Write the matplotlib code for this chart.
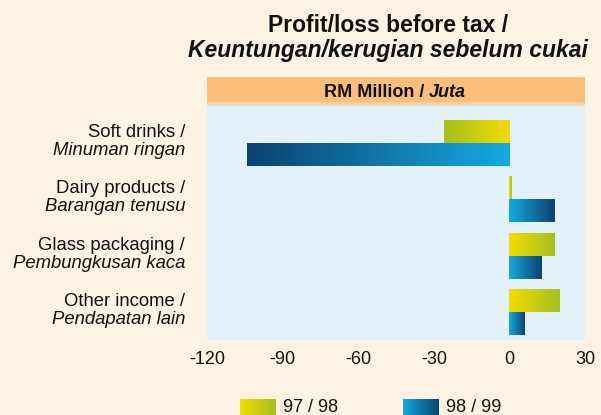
import numpy as np
import matplotlib
matplotlib.use("Agg")
import matplotlib.pyplot as plt
from matplotlib.colors import LinearSegmentedColormap
from matplotlib.patches import Rectangle

plt.rcParams["font.family"] = ["Liberation Sans", "DejaVu Sans"]

# Data (RM million)
segments_en = ["Soft drinks /", "Dairy products /", "Glass packaging /", "Other income /"]
segments_ms = ["Minuman ringan", "Barangan tenusu", "Pembungkusan kaca", "Pendapatan lain"]
fy9798 = [-26, 1, 18, 20]
fy9899 = [-104, 18, 13, 6]
series_labels = ["97 / 98", "98 / 99"]
xticks = [-120, -90, -60, -30, 0, 30]

BG = "#fdf3e2"
PLOT_BG = "#e3f1fa"
HEADER = "#fbbf7c"
TXT = "#111111"

# gradients: colour at zero -> colour at bar end
cmap_9798 = LinearSegmentedColormap.from_list("c9798", ["#f4dc00", "#a4c01e"])
cmap_9899 = LinearSegmentedColormap.from_list("c9899", ["#14aae0", "#0b4270"])
cmap_shade = LinearSegmentedColormap.from_list("shade", [HEADER, "#f3d7b6", PLOT_BG])

W, H = 601, 415
fig = plt.figure(figsize=(W / 100, H / 100), dpi=100, facecolor=BG)

ax = fig.add_axes([207 / W, (H - 340) / H, 378 / W, 234 / H])
ax.set_facecolor(PLOT_BG)

grad = np.linspace(0, 1, 256).reshape(1, -1)
ypos = np.arange(len(segments_en))
bh = 0.41


def gradient_bars(values, offset, cmap):
    bars = ax.barh(ypos + offset, values, height=bh, color="none", edgecolor="none")
    for patch in bars:
        x0 = 0
        x1 = patch.get_x() + patch.get_width() if patch.get_x() == 0 else patch.get_x()
        y0 = patch.get_y()
        y1 = y0 + patch.get_height()
        im = ax.imshow(grad, cmap=cmap, aspect="auto", extent=(x0, x1, y1, y0),
                       interpolation="bicubic", zorder=2)
        im.set_clip_path(patch)


gradient_bars(fy9798, -bh / 2, cmap_9798)
gradient_bars(fy9899, bh / 2, cmap_9899)

ax.set_xlim(-120, 30)
ax.set_ylim(3.5, -0.66)
ax.set_xticks(xticks)
ax.set_xticklabels([str(t) for t in xticks])
ax.set_yticks([])
ax.tick_params(axis="x", length=0, pad=8, labelsize=13, labelcolor=TXT)
for s in ax.spines.values():
    s.set_visible(False)

# category labels (two lines: English / Malay italic)
for i, (en, ms) in enumerate(zip(segments_en, segments_ms)):
    ax.annotate(en, xy=(0, i), xycoords=ax.get_yaxis_transform(),
                xytext=(-22, 6), textcoords="offset pixels",
                ha="right", va="baseline", fontsize=13.3, color=TXT, annotation_clip=False)
    ax.annotate(ms, xy=(0, i), xycoords=ax.get_yaxis_transform(),
                xytext=(-22, -12), textcoords="offset pixels",
                ha="right", va="baseline", fontsize=13.3, style="italic", color=TXT,
                annotation_clip=False)

# overlay in pixel coordinates for title, header band and legend
ov = fig.add_axes([0, 0, 1, 1], facecolor="none")
ov.set_xlim(0, W)
ov.set_ylim(H, 0)
ov.axis("off")

ov.text(388, 32, "Profit/loss before tax /", ha="center", va="baseline",
        fontsize=16.5, fontweight="bold", color=TXT)
ov.text(388, 57, "Keuntungan/kerugian sebelum cukai", ha="center", va="baseline",
        fontsize=16.5, fontweight="bold", style="italic", color=TXT)

ov.add_patch(Rectangle((207, 77), 378, 24, facecolor=HEADER, edgecolor="none"))
ov.imshow(grad.T, cmap=cmap_shade, aspect="auto", extent=(207, 585, 107, 101),
          interpolation="bicubic")
ov.text(424, 97, "RM Million /", ha="right", va="baseline",
        fontsize=13, fontweight="bold", color=TXT)
ov.text(429, 97, "Juta", ha="left", va="baseline",
        fontsize=13, fontweight="bold", style="italic", color=TXT)

# legend
for (sx, cmap, lab) in [(240, cmap_9798, series_labels[0]), (403, cmap_9899, series_labels[1])]:
    ov.imshow(grad, cmap=cmap, aspect="auto", extent=(sx, sx + 36, 415, 399),
              interpolation="bicubic")
    ov.text(sx + 43, 412, lab, ha="left", va="baseline", fontsize=13, color=TXT)
ov.set_xlim(0, W)
ov.set_ylim(H, 0)

fig.savefig("out.png", dpi=100, facecolor=BG)
